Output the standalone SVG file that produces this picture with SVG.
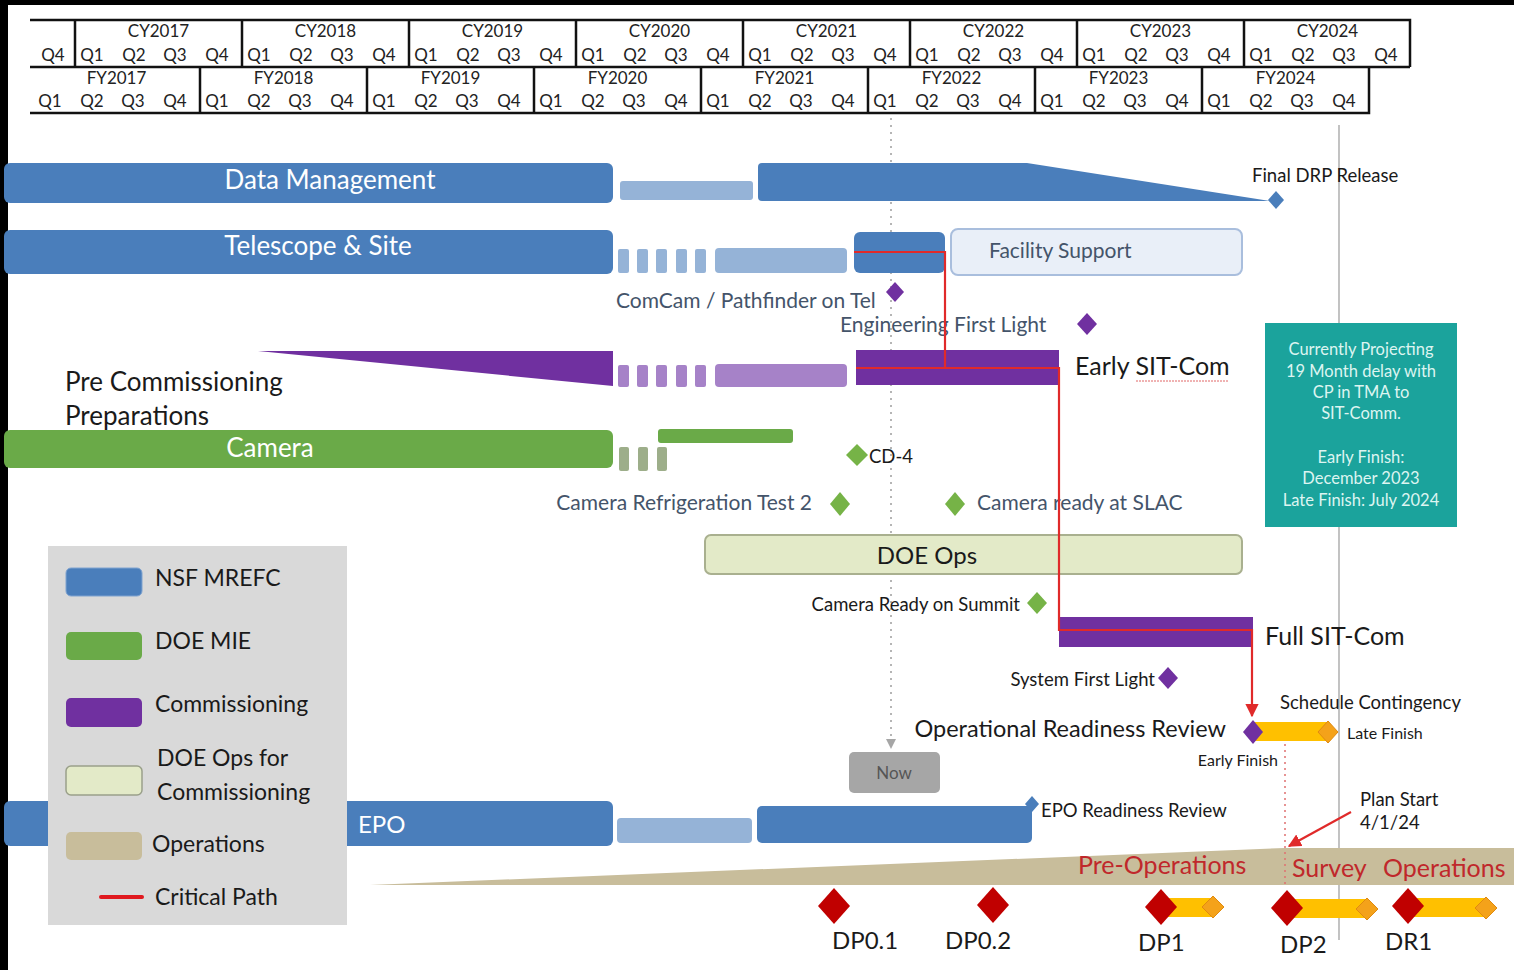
<svg xmlns="http://www.w3.org/2000/svg" width="1514" height="970" viewBox="0 0 1514 970">
<defs>
<style>
text{font-family:Lato,"Open Sans","Liberation Sans",sans-serif;}
.hd{font-size:17px;fill:#222;text-anchor:middle;}
.hl{stroke:#111;stroke-width:2.5;fill:none;}
.blue{fill:#4A7EBB;}
.lblue{fill:#95B3D7;}
.purp{fill:#7030A0;}
.lpurp{fill:#A682C8;}
.green{fill:#6AAA48;}
.ggreen{fill:#9DAE8A;}
.wt{fill:#fff;font-size:26px;text-anchor:middle;}
.bl{fill:#44546A;font-size:21px;}
.bk{fill:#1a1a1a;}
.sm{font-size:18.5px;}
.crit{stroke:#E02A2A;stroke-width:2.2;fill:none;}
.dmd-p{fill:#7030A0;}
.dmd-g{fill:#76B347;}
.dmd-r{fill:#C00000;}
.dmd-o{fill:#F4A21A;stroke:#E08A10;stroke-width:1;}
.yel{fill:#FFC000;}
.lg{font-size:23px;fill:#1a1a1a;}
</style>
<marker id="arrR" viewBox="0 0 10 10" refX="9" refY="5" markerWidth="6" markerHeight="6" orient="auto"><path d="M0,0 L10,5 L0,10 z" fill="#E02A2A"/></marker>
<marker id="arrG" viewBox="0 0 10 10" refX="9" refY="5" markerWidth="5" markerHeight="5" orient="auto"><path d="M0,0 L10,5 L0,10 z" fill="#A6A6A6"/></marker>
</defs>
<rect x="0" y="0" width="1514" height="970" fill="#fff"/>
<rect x="0" y="0" width="1514" height="5" fill="#000"/>
<rect x="0" y="0" width="8" height="970" fill="#000"/>

<g id="header">
<path class="hl" d="M30,20 H1410 V67 M30,67 H1410 M30,113 H1369 V67"/>
<path class="hl" d="M75,20V67 M242,20V67 M409,20V67 M576,20V67 M743,20V67 M910,20V67 M1077,20V67 M1244,20V67"/>
<path class="hl" d="M200,67V113 M367,67V113 M534,67V113 M701,67V113 M868,67V113 M1035,67V113 M1202,67V113"/>
<g class="hd">
<text x="158.5" y="37">CY2017</text><text x="325.5" y="37">CY2018</text><text x="492.5" y="37">CY2019</text><text x="659.5" y="37">CY2020</text><text x="826.5" y="37">CY2021</text><text x="993.5" y="37">CY2022</text><text x="1160.5" y="37">CY2023</text><text x="1327.5" y="37">CY2024</text>
<text x="53" y="61">Q4</text>
<text x="92" y="61">Q1</text><text x="134" y="61">Q2</text><text x="175" y="61">Q3</text><text x="217" y="61">Q4</text>
<text x="259" y="61">Q1</text><text x="301" y="61">Q2</text><text x="342" y="61">Q3</text><text x="384" y="61">Q4</text>
<text x="426" y="61">Q1</text><text x="468" y="61">Q2</text><text x="509" y="61">Q3</text><text x="551" y="61">Q4</text>
<text x="593" y="61">Q1</text><text x="635" y="61">Q2</text><text x="676" y="61">Q3</text><text x="718" y="61">Q4</text>
<text x="760" y="61">Q1</text><text x="802" y="61">Q2</text><text x="843" y="61">Q3</text><text x="885" y="61">Q4</text>
<text x="927" y="61">Q1</text><text x="969" y="61">Q2</text><text x="1010" y="61">Q3</text><text x="1052" y="61">Q4</text>
<text x="1094" y="61">Q1</text><text x="1136" y="61">Q2</text><text x="1177" y="61">Q3</text><text x="1219" y="61">Q4</text>
<text x="1261" y="61">Q1</text><text x="1303" y="61">Q2</text><text x="1344" y="61">Q3</text><text x="1386" y="61">Q4</text>
<text x="116.5" y="84">FY2017</text><text x="283.5" y="84">FY2018</text><text x="450.5" y="84">FY2019</text><text x="617.5" y="84">FY2020</text><text x="784.5" y="84">FY2021</text><text x="951.5" y="84">FY2022</text><text x="1118.5" y="84">FY2023</text><text x="1285.5" y="84">FY2024</text>
<text x="50" y="107">Q1</text><text x="92" y="107">Q2</text><text x="133" y="107">Q3</text><text x="175" y="107">Q4</text>
<text x="217" y="107">Q1</text><text x="259" y="107">Q2</text><text x="300" y="107">Q3</text><text x="342" y="107">Q4</text>
<text x="384" y="107">Q1</text><text x="426" y="107">Q2</text><text x="467" y="107">Q3</text><text x="509" y="107">Q4</text>
<text x="551" y="107">Q1</text><text x="593" y="107">Q2</text><text x="634" y="107">Q3</text><text x="676" y="107">Q4</text>
<text x="718" y="107">Q1</text><text x="760" y="107">Q2</text><text x="801" y="107">Q3</text><text x="843" y="107">Q4</text>
<text x="885" y="107">Q1</text><text x="927" y="107">Q2</text><text x="968" y="107">Q3</text><text x="1010" y="107">Q4</text>
<text x="1052" y="107">Q1</text><text x="1094" y="107">Q2</text><text x="1135" y="107">Q3</text><text x="1177" y="107">Q4</text>
<text x="1219" y="107">Q1</text><text x="1261" y="107">Q2</text><text x="1302" y="107">Q3</text><text x="1344" y="107">Q4</text>
</g>
</g>

<g id="now-line">
<line x1="891" y1="118" x2="891" y2="748" stroke="#B5B5B5" stroke-width="2" stroke-dasharray="2 5" marker-end="url(#arrG)"/>
</g>
<g id="plan-line">
<line x1="1339" y1="125" x2="1339" y2="940" stroke="#9A9A9A" stroke-width="1.2"/>
</g>

<g id="operations-band">
<polygon points="370,885 1285,848 1514,848 1514,885" fill="#C8BD9B"/>
<text x="1078" y="874" font-size="25" fill="#C0282B">Pre-Operations</text>
<text x="1292" y="877" font-size="25" fill="#C0282B">Survey</text>
<text x="1383" y="877" font-size="25" fill="#C0282B">Operations</text>
</g>

<g id="data-management">
<rect x="4" y="163" width="609" height="40" rx="6" class="blue"/>
<text x="330" y="189" class="wt">Data Management</text>
<rect x="620" y="181" width="133" height="19" rx="3" class="lblue"/>
<path d="M762,163 H1027 L1270,201 H762 Q758,201 758,197 V167 Q758,163 762,163 Z" class="blue"/>
<polygon points="1276,191 1284,200 1276,209 1268,200" class="blue"/>
<text x="1252" y="182" class="bk sm">Final DRP Release</text>
</g>

<g id="telescope-site">
<rect x="4" y="230" width="609" height="44" rx="6" class="blue"/>
<text x="318" y="255" class="wt">Telescope &amp; Site</text>
<rect x="618" y="249" width="11" height="24" rx="2" class="lblue"/>
<rect x="637" y="249" width="11" height="24" rx="2" class="lblue"/>
<rect x="656" y="249" width="11" height="24" rx="2" class="lblue"/>
<rect x="676" y="249" width="11" height="24" rx="2" class="lblue"/>
<rect x="695" y="249" width="11" height="24" rx="2" class="lblue"/>
<rect x="715" y="248" width="132" height="25" rx="4" class="lblue"/>
<rect x="854" y="232" width="91" height="41" rx="6" class="blue"/>
<rect x="951" y="229" width="291" height="46" rx="7" fill="#E9EFF8" stroke="#A9BEDD" stroke-width="2"/>
<text x="989" y="258" class="bl" font-size="20">Facility Support</text>
</g>

<g id="tel-milestones">
<text x="616" y="308" class="bl">ComCam / Pathfinder on Tel</text>
<polygon points="895,282 904,292 895,302 886,292" class="dmd-p"/>
<text x="840" y="332" class="bl">Engineering First Light</text>
<polygon points="1087,313 1097,324 1087,335 1077,324" class="dmd-p"/>
</g>

<g id="commissioning">
<polygon points="258,351 613,351 613,386" class="purp"/>
<rect x="618" y="365" width="11" height="22" rx="2" class="lpurp"/>
<rect x="637" y="365" width="11" height="22" rx="2" class="lpurp"/>
<rect x="656" y="365" width="11" height="22" rx="2" class="lpurp"/>
<rect x="676" y="365" width="11" height="22" rx="2" class="lpurp"/>
<rect x="695" y="365" width="11" height="22" rx="2" class="lpurp"/>
<rect x="715" y="364" width="132" height="23" rx="4" class="lpurp"/>
<rect x="856" y="350" width="203" height="35" class="purp"/>
<text x="1075" y="375" font-size="25" class="bk">Early SIT-Com</text>
<line x1="1136" y1="381" x2="1228" y2="381" stroke="#E06666" stroke-width="1" stroke-dasharray="2 1"/>
<text x="65" y="391" font-size="26" class="bk">Pre Commissioning</text>
<text x="65" y="425" font-size="26" class="bk">Preparations</text>
</g>

<g id="camera">
<rect x="4" y="430" width="609" height="38" rx="6" class="green"/>
<text x="270" y="457" class="wt">Camera</text>
<rect x="619" y="447" width="10" height="24" rx="2" class="ggreen"/>
<rect x="638" y="447" width="10" height="24" rx="2" class="ggreen"/>
<rect x="657" y="447" width="10" height="24" rx="2" class="ggreen"/>
<rect x="658" y="429" width="135" height="14" rx="3" class="green"/>
<polygon points="857,444 868,455 857,466 846,455" class="dmd-g"/>
<text x="869" y="463" class="bk sm">CD-4</text>
<text x="812" y="510" class="bl" text-anchor="end">Camera Refrigeration Test 2</text>
<polygon points="840,492 850,504 840,516 830,504" class="dmd-g"/>
<polygon points="955,492 965,504 955,516 945,504" class="dmd-g"/>
<text x="977" y="510" class="bl">Camera ready at SLAC</text>
</g>

<g id="doe-ops">
<rect x="705" y="535" width="537" height="39" rx="6" fill="#E3EAC8" stroke="#A9B08F" stroke-width="2"/>
<text x="927" y="564" font-size="24" class="bk" text-anchor="middle">DOE Ops</text>
<text x="1020" y="611" class="bk sm" text-anchor="end">Camera Ready on Summit</text>
<polygon points="1037,592 1047,603 1037,614 1027,603" class="dmd-g"/>
</g>

<g id="full-sit-com">
<rect x="1059" y="617" width="194" height="30" class="purp"/>
<text x="1265" y="645" font-size="25" class="bk">Full SIT-Com</text>
<text x="1155" y="686" class="bk sm" text-anchor="end">System First Light</text>
<polygon points="1168,667 1178,678 1168,689 1158,678" class="dmd-p"/>
</g>

<g id="orr">
<rect x="1253" y="722" width="75" height="19" class="yel"/>
<polygon points="1253,720 1263,732 1253,744 1243,732" class="dmd-p"/>
<polygon points="1328,721 1338,732 1328,743 1318,732" class="dmd-o"/>
<text x="1226" y="737" font-size="23.5" class="bk" text-anchor="end">Operational Readiness Review</text>
<text x="1280" y="709" font-size="18.5" class="bk">Schedule Contingency</text>
<text x="1347" y="739" font-size="16" class="bk">Late Finish</text>
<text x="1278" y="766" font-size="16" class="bk" text-anchor="end">Early Finish</text>
<line x1="1285" y1="744" x2="1285" y2="885" stroke="#E07070" stroke-width="1.5" stroke-dasharray="2 4"/>
</g>

<g id="now-box">
<rect x="849" y="752" width="91" height="41" rx="5" fill="#A6A6A6"/>
<text x="894" y="779" font-size="17" fill="#555" text-anchor="middle">Now</text>
</g>

<g id="epo">
<rect x="4" y="801" width="609" height="45" rx="6" class="blue"/>
<text x="358" y="833" font-size="24" fill="#fff">EPO</text>
<rect x="617" y="818" width="135" height="25" rx="4" class="lblue"/>
<rect x="757" y="806" width="275" height="37" rx="5" class="blue"/>
<polygon points="1032,796 1039,804 1032,812 1025,804" class="blue"/>
<text x="1041" y="817" class="bk sm">EPO Readiness Review</text>
</g>

<g id="plan-start">
<text x="1360" y="806" class="bk sm">Plan Start</text>
<text x="1360" y="829" class="bk sm">4/1/24</text>
<line x1="1351" y1="812" x2="1289" y2="846" class="crit" stroke-width="1.5" marker-end="url(#arrR)"/>
</g>

<g id="teal-note">
<rect x="1265" y="323" width="192" height="204" fill="#1BA39C"/>
<g font-size="16.5" fill="#DDF5F1" text-anchor="middle">
<text x="1361" y="355">Currently Projecting</text>
<text x="1361" y="377">19 Month delay with</text>
<text x="1361" y="398">CP in TMA to</text>
<text x="1361" y="419">SIT-Comm.</text>
<text x="1361" y="463">Early Finish:</text>
<text x="1361" y="484">December 2023</text>
<text x="1361" y="506">Late Finish:  July  2024</text>
</g>
</g>

<g id="legend">
<rect x="48" y="546" width="299" height="379" fill="#D9D9D9"/>
<rect x="66" y="568" width="76" height="28" rx="5" fill="#4A7EBB" stroke="#7FA3D0" stroke-width="1"/>
<text x="155" y="586" class="lg" font-size="22">NSF MREFC</text>
<rect x="66" y="632" width="76" height="28" rx="5" fill="#6AAA48"/>
<text x="155" y="649" class="lg" font-size="22">DOE MIE</text>
<rect x="66" y="698" width="76" height="29" rx="5" fill="#7030A0"/>
<text x="155" y="712" class="lg">Commissioning</text>
<rect x="66" y="766" width="76" height="29" rx="5" fill="#E3EAC8" stroke="#9AA08A" stroke-width="1.5"/>
<text x="157" y="766" class="lg">DOE Ops for</text>
<text x="157" y="800" class="lg">Commissioning</text>
<rect x="66" y="832" width="76" height="28" rx="5" fill="#C8BD9B"/>
<text x="152" y="852" class="lg">Operations</text>
<line x1="101" y1="897" x2="142" y2="897" stroke="#E0191F" stroke-width="4" stroke-linecap="round"/>
<text x="155" y="905" class="lg">Critical Path</text>
</g>

<g id="critical-path">
<line class="crit" x1="854" y1="252" x2="945" y2="252"/>
<line class="crit" x1="945" y1="251" x2="945" y2="369"/>
<line class="crit" x1="856" y1="368" x2="1059" y2="368"/>
<line class="crit" x1="1059" y1="367" x2="1059" y2="631"/>
<line class="crit" x1="1059" y1="630" x2="1252" y2="630"/>
<line class="crit" x1="1252" y1="629" x2="1252" y2="716" marker-end="url(#arrR)"/>
</g>

<g id="decision-points">
<rect x="1161" y="898" width="52" height="19" class="yel"/>
<rect x="1287" y="899" width="80" height="19" class="yel"/>
<rect x="1408" y="898" width="78" height="19" class="yel"/>
<polygon points="834,888 850,906 834,924 818,906" class="dmd-r"/>
<polygon points="993,887 1009,905 993,923 977,905" class="dmd-r"/>
<polygon points="1161,889 1177,907 1161,925 1145,907" class="dmd-r"/>
<polygon points="1287,890 1303,908 1287,926 1271,908" class="dmd-r"/>
<polygon points="1408,888 1424,906 1408,924 1392,906" class="dmd-r"/>
<polygon points="1213,896 1224,907 1213,918 1202,907" class="dmd-o"/>
<polygon points="1367,898 1378,909 1367,920 1356,909" class="dmd-o"/>
<polygon points="1486,897 1497,908 1486,919 1475,908" class="dmd-o"/>
<g font-size="24" class="bk">
<text x="832" y="949">DP0.1</text>
<text x="945" y="949">DP0.2</text>
<text x="1138" y="951">DP1</text>
<text x="1280" y="953">DP2</text>
<text x="1385" y="950">DR1</text>
</g>
</g>
</svg>
